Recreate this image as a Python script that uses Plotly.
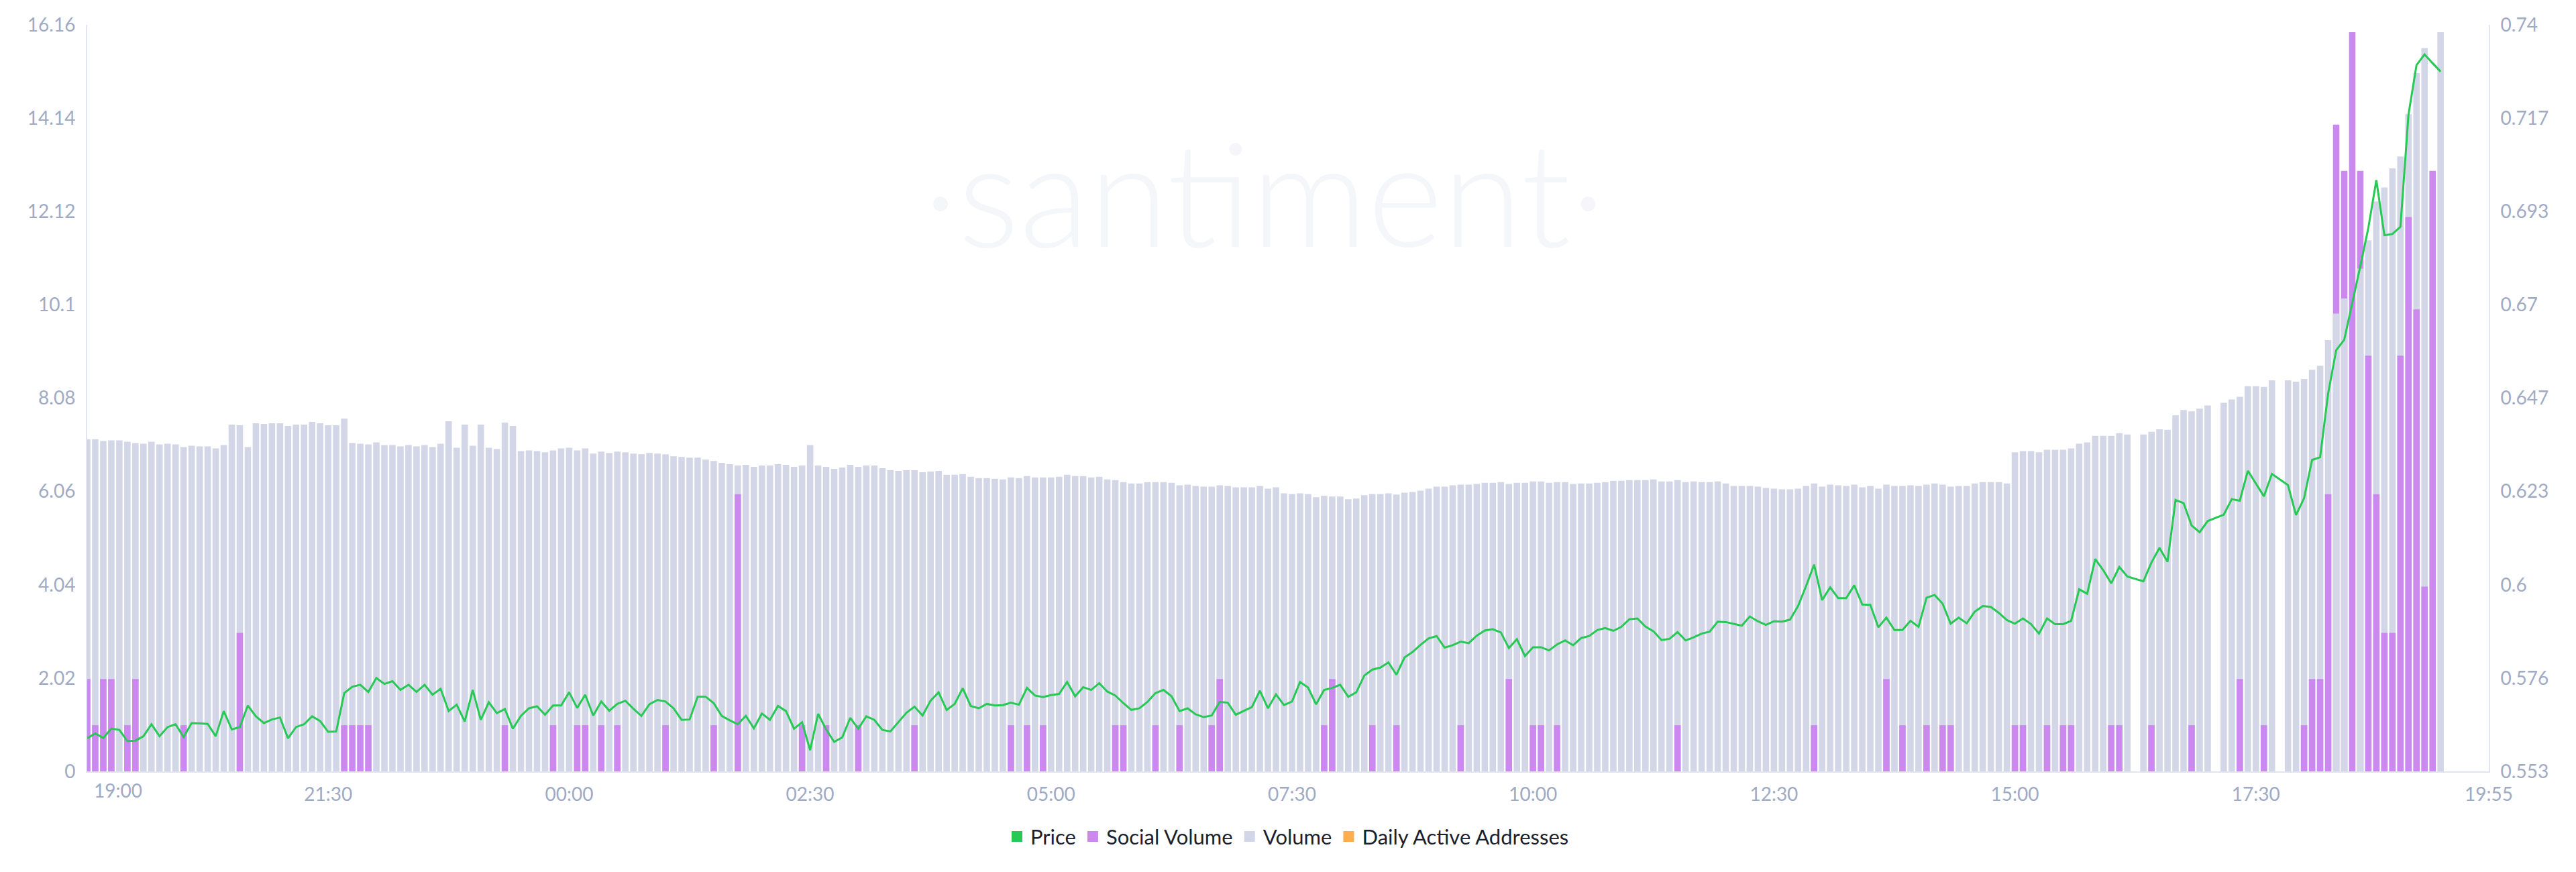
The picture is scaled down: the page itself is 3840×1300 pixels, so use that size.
import pandas as pd
import plotly.graph_objects as go

# 5 minute buckets, first one at 19:00, axis runs to 19:55 next day
start_time = "2020-02-20 19:00"
end_time = "2020-02-21 19:55"

volume = [
    5.03, 5.03, 5.00, 5.01, 5.01, 4.99, 4.97, 4.96, 4.99, 4.95,
    4.96, 4.95, 4.91, 4.93, 4.92, 4.92, 4.89, 4.94, 5.25, 5.24,
    4.91, 5.27, 5.26, 5.27, 5.27, 5.23, 5.25, 5.25, 5.29, 5.27,
    5.24, 5.24, 5.34, 4.97, 4.96, 4.95, 4.98, 4.94, 4.94, 4.92,
    4.94, 4.92, 4.94, 4.91, 4.96, 5.30, 4.90, 5.25, 4.93, 5.25,
    4.90, 4.88, 5.28, 5.23, 4.85, 4.86, 4.85, 4.83, 4.86, 4.89,
    4.90, 4.86, 4.89, 4.81, 4.84, 4.82, 4.84, 4.83, 4.81, 4.80,
    4.82, 4.81, 4.80, 4.77, 4.76, 4.75, 4.75, 4.72, 4.70, 4.67,
    4.65, 4.63, 4.64, 4.61, 4.63, 4.63, 4.65, 4.64, 4.61, 4.63,
    4.94, 4.63, 4.61, 4.58, 4.60, 4.64, 4.61, 4.63, 4.63, 4.59,
    4.56, 4.55, 4.56, 4.56, 4.53, 4.54, 4.55, 4.49, 4.49, 4.50,
    4.46, 4.44, 4.44, 4.43, 4.42, 4.45, 4.44, 4.47, 4.45, 4.45,
    4.45, 4.46, 4.49, 4.47, 4.47, 4.45, 4.46, 4.42, 4.41, 4.38,
    4.36, 4.36, 4.38, 4.38, 4.38, 4.37, 4.33, 4.34, 4.32, 4.31,
    4.31, 4.33, 4.32, 4.30, 4.30, 4.30, 4.32, 4.28, 4.30, 4.21,
    4.20, 4.21, 4.20, 4.15, 4.17, 4.16, 4.16, 4.12, 4.13, 4.18,
    4.20, 4.20, 4.21, 4.19, 4.22, 4.23, 4.25, 4.28, 4.31, 4.31,
    4.33, 4.34, 4.34, 4.35, 4.37, 4.37, 4.38, 4.35, 4.37, 4.37,
    4.39, 4.39, 4.37, 4.38, 4.38, 4.35, 4.36, 4.36, 4.37, 4.38,
    4.40, 4.40, 4.41, 4.41, 4.41, 4.42, 4.39, 4.39, 4.41, 4.38,
    4.39, 4.38, 4.38, 4.39, 4.36, 4.32, 4.32, 4.32, 4.31, 4.29,
    4.28, 4.27, 4.27, 4.28, 4.32, 4.36, 4.31, 4.34, 4.33, 4.32,
    4.34, 4.30, 4.32, 4.28, 4.34, 4.32, 4.32, 4.33, 4.32, 4.34,
    4.36, 4.34, 4.31, 4.32, 4.32, 4.36, 4.38, 4.38, 4.38, 4.36,
    4.83, 4.85, 4.85, 4.83, 4.87, 4.87, 4.87, 4.89, 4.96, 4.98,
    5.08, 5.08, 5.08, 5.12, 5.10, None, 5.10, 5.14, 5.18, 5.17,
    5.39, 5.47, 5.45, 5.49, 5.54, None, 5.58, 5.63, 5.67, 5.83,
    5.83, 5.82, 5.92, None, 5.92, 5.90, 5.94, 6.08, 6.14, 6.53,
    6.93, 7.16, None, 7.61, 8.04, 8.63, 8.84, 9.13, 9.31, 9.95,
    10.57, 10.95, None, 11.19,
]

social_volume = [
    2, 1, 2, 2, 0, 1, 2, 0, 0, 0,
    0, 0, 1, 0, 0, 0, 0, 0, 0, 3,
    0, 0, 0, 0, 0, 0, 0, 0, 0, 0,
    0, 0, 1, 1, 1, 1, 0, 0, 0, 0,
    0, 0, 0, 0, 0, 0, 0, 0, 0, 0,
    0, 0, 1, 0, 0, 0, 0, 0, 1, 0,
    0, 1, 1, 0, 1, 0, 1, 0, 0, 0,
    0, 0, 1, 0, 0, 0, 0, 0, 1, 0,
    0, 6, 0, 0, 0, 0, 0, 0, 0, 1,
    0, 0, 1, 0, 0, 0, 1, 0, 0, 0,
    0, 0, 0, 1, 0, 0, 0, 0, 0, 0,
    0, 0, 0, 0, 0, 1, 0, 1, 0, 1,
    0, 0, 0, 0, 0, 0, 0, 0, 1, 1,
    0, 0, 0, 1, 0, 0, 1, 0, 0, 0,
    1, 2, 0, 0, 0, 0, 0, 0, 0, 0,
    0, 0, 0, 0, 1, 2, 0, 0, 0, 0,
    1, 0, 0, 1, 0, 0, 0, 0, 0, 0,
    0, 1, 0, 0, 0, 0, 0, 2, 0, 0,
    1, 1, 0, 1, 0, 0, 0, 0, 0, 0,
    0, 0, 0, 0, 0, 0, 0, 0, 1, 0,
    0, 0, 0, 0, 0, 0, 0, 0, 0, 0,
    0, 0, 0, 0, 0, 1, 0, 0, 0, 0,
    0, 0, 0, 0, 2, 0, 1, 0, 0, 1,
    0, 1, 1, 0, 0, 0, 0, 0, 0, 0,
    1, 1, 0, 0, 1, 0, 1, 1, 0, 0,
    0, 0, 1, 1, 0, 0, 0, 1, 0, 0,
    0, 0, 1, 0, 0, 0, 0, 0, 2, 0,
    0, 1, 0, 0, 0, 0, 1, 2, 2, 6,
    14, 13, 16, 13, 9, 6, 3, 3, 9, 12,
    10, 4, 13, 0,
]

price = [
    0.5613, 0.5625, 0.5614, 0.5637, 0.5634, 0.5606, 0.5607, 0.5618, 0.5648, 0.5618,
    0.5641, 0.5648, 0.5616, 0.5651, 0.5650, 0.5649, 0.5618, 0.5681, 0.5635, 0.5641,
    0.5695, 0.5668, 0.5651, 0.5660, 0.5665, 0.5613, 0.5641, 0.5648, 0.5668, 0.5656,
    0.5629, 0.5630, 0.5726, 0.5742, 0.5747, 0.5729, 0.5764, 0.5749, 0.5756, 0.5734,
    0.5747, 0.5729, 0.5747, 0.5722, 0.5737, 0.5681, 0.5697, 0.5655, 0.5734, 0.5659,
    0.5703, 0.5676, 0.5686, 0.5637, 0.5669, 0.5688, 0.5693, 0.5672, 0.5695, 0.5695,
    0.5728, 0.5689, 0.5722, 0.5670, 0.5705, 0.5682, 0.5699, 0.5707, 0.5687, 0.5669,
    0.5698, 0.5709, 0.5705, 0.5688, 0.5659, 0.5660, 0.5717, 0.5717, 0.5701, 0.5669,
    0.5658, 0.5648, 0.5669, 0.5638, 0.5675, 0.5659, 0.5694, 0.5681, 0.5637, 0.5653,
    0.5583, 0.5674, 0.5635, 0.5604, 0.5615, 0.5664, 0.5637, 0.5668, 0.5659, 0.5634,
    0.5630, 0.5653, 0.5677, 0.5692, 0.5670, 0.5707, 0.5728, 0.5684, 0.5699, 0.5738,
    0.5694, 0.5688, 0.5699, 0.5695, 0.5696, 0.5702, 0.5697, 0.5739, 0.5720, 0.5716,
    0.5721, 0.5724, 0.5754, 0.5718, 0.5741, 0.5734, 0.5751, 0.5730, 0.5720, 0.5701,
    0.5684, 0.5688, 0.5704, 0.5726, 0.5734, 0.5718, 0.5681, 0.5688, 0.5673, 0.5666,
    0.5670, 0.5704, 0.5702, 0.5672, 0.5681, 0.5691, 0.5732, 0.5688, 0.5723, 0.5696,
    0.5705, 0.5754, 0.5740, 0.5698, 0.5734, 0.5739, 0.5747, 0.5717, 0.5728, 0.5770,
    0.5785, 0.5790, 0.5803, 0.5772, 0.5815, 0.5829, 0.5847, 0.5863, 0.5869, 0.5840,
    0.5846, 0.5855, 0.5851, 0.5870, 0.5883, 0.5886, 0.5878, 0.5839, 0.5861, 0.5819,
    0.5841, 0.5841, 0.5833, 0.5848, 0.5858, 0.5846, 0.5864, 0.5869, 0.5884, 0.5889,
    0.5882, 0.5892, 0.5911, 0.5913, 0.5893, 0.5881, 0.5859, 0.5862, 0.5879, 0.5858,
    0.5866, 0.5875, 0.5880, 0.5905, 0.5904, 0.5899, 0.5895, 0.5918, 0.5906, 0.5897,
    0.5906, 0.5905, 0.5910, 0.5944, 0.5994, 0.6048, 0.5959, 0.5991, 0.5964, 0.5964,
    0.5996, 0.5948, 0.5947, 0.5891, 0.5915, 0.5884, 0.5884, 0.5907, 0.5892, 0.5965,
    0.5972, 0.5950, 0.5900, 0.5915, 0.5901, 0.5930, 0.5944, 0.5942, 0.5927, 0.5909,
    0.5900, 0.5913, 0.5899, 0.5875, 0.5913, 0.5899, 0.5899, 0.5907, 0.5986, 0.5975,
    0.6062, 0.6034, 0.6001, 0.6042, 0.6018, None, 0.6006, 0.6053, 0.6090, 0.6055,
    0.6210, 0.6202, 0.6146, 0.6129, 0.6157, None, 0.6173, 0.6212, 0.6208, 0.6283,
    0.6251, 0.6219, 0.6275, None, 0.6247, 0.6172, 0.6214, 0.6310, 0.6317, 0.6477,
    0.6585, 0.6611, 0.6701, 0.6795, 0.6891, 0.7011, 0.6873, 0.6876, 0.6894, 0.7175,
    0.7299, 0.7326, 0.7304, 0.7283,
]

x_tick_times = ["2020-02-20 21:30", "2020-02-21 00:00", "2020-02-21 02:30", "2020-02-21 05:00",
                "2020-02-21 07:30", "2020-02-21 10:00", "2020-02-21 12:30", "2020-02-21 15:00",
                "2020-02-21 17:30", "2020-02-21 19:55"]
x_tick_text = ["21:30", "00:00", "02:30", "05:00", "07:30", "10:00", "12:30", "15:00", "17:30", "19:55"]
first_tick_text = "19:00"

social_tick_text = ["0", "2.02", "4.04", "6.06", "8.08", "10.1", "12.12", "14.14", "16.16"]
price_tick_text = ["0.553", "0.576", "0.6", "0.623", "0.647", "0.67", "0.693", "0.717", "0.74"]
price_min, price_max = 0.553, 0.74

GREEN = "#26c953"
PURPLE = "#cb89ef"
GREY = "#d2d6e7"
ORANGE = "#ffad4d"
TICK = "#9faac4"
AXIS = "#e2e5f0"
FONT = "Lato, 'Open Sans', sans-serif"
TICK_SIZE = 28

times = pd.date_range(start_time, periods=len(volume), freq="5min")
bar_w = 5 * 60 * 1000 * 0.8

soc_top = max(social_volume) * 1.01
vol_top = max(v for v in volume if v is not None) * 1.01

# the shorter bar of each bucket is the one drawn in front
soc_back, soc_front = [], []
for s, v in zip(social_volume, volume):
    if not s:
        soc_back.append(None)
        soc_front.append(None)
    elif v is None or s / soc_top > v / vol_top:
        soc_back.append(s)
        soc_front.append(None)
    else:
        soc_back.append(None)
        soc_front.append(s)

soc_ticks = [soc_top * i / 8 for i in range(8)] + [soc_top]
price_ticks = [price_min + (price_max - price_min) * i / 8 for i in range(8)] + [price_max]

fig = go.Figure()
fig.add_trace(go.Bar(x=times, y=soc_back, width=bar_w, marker=dict(color=PURPLE, line_width=0),
                     yaxis="y", showlegend=False, name="Social Volume"))
fig.add_trace(go.Bar(x=times, y=volume, width=bar_w, marker=dict(color=GREY, line_width=0),
                     yaxis="y2", showlegend=False, name="Volume"))
fig.add_trace(go.Bar(x=times, y=soc_front, width=bar_w, marker=dict(color=PURPLE, line_width=0),
                     yaxis="y3", showlegend=False, name="Social Volume"))
fig.add_trace(go.Scatter(x=times, y=price, mode="lines", connectgaps=True,
                         line=dict(color=GREEN, width=3), yaxis="y4", showlegend=False, name="Price"))

# legend entries (square swatches)
for name, col in [("Price", GREEN), ("Social Volume", PURPLE), ("Volume", GREY),
                  ("Daily Active Addresses", ORANGE)]:
    fig.add_trace(go.Scatter(x=[None], y=[None], mode="markers", name=name,
                             marker=dict(symbol="square", size=16, color=col)))

fig.add_annotation(text=first_tick_text, x=times[0], xref="x", y=0, yref="paper",
                   xanchor="left", yanchor="top", xshift=8, yshift=-9, showarrow=False,
                   font=dict(family=FONT, size=TICK_SIZE, color=TICK))
fig.add_annotation(text="·santiment·", x=0.49, xref="paper", y=0.895, yref="paper",
                   showarrow=False, font=dict(family=FONT, size=215, color="#f5f6fa", weight=300))

fig.update_layout(
    width=3832, height=1292,
    margin=dict(l=122, r=130, t=11, b=150),
    paper_bgcolor="white", plot_bgcolor="white",
    barmode="overlay",
    font=dict(family=FONT, size=TICK_SIZE, color=TICK),
    legend=dict(orientation="h", x=0.5, xanchor="center", y=-0.0875, yanchor="middle",
                font=dict(family=FONT, size=31, color="#1b1f2e"), itemsizing="trace"),
    xaxis=dict(type="date", range=[times[0], end_time], tickvals=x_tick_times, ticktext=x_tick_text,
               showgrid=False, zeroline=False, showline=True, linecolor=AXIS, linewidth=2,
               ticks="", ticklabelstandoff=8, ticklabeloverflow="allow",
               tickfont=dict(size=TICK_SIZE, color=TICK)),
    yaxis=dict(range=[0, soc_top], tickvals=soc_ticks, ticktext=social_tick_text,
               showgrid=False, zeroline=False, showline=True, linecolor=AXIS, linewidth=2,
               ticks="", ticklabelstandoff=10, ticklabeloverflow="allow",
               tickfont=dict(size=TICK_SIZE, color=TICK)),
    yaxis2=dict(overlaying="y", range=[0, vol_top], visible=False),
    yaxis3=dict(overlaying="y", range=[0, soc_top], visible=False),
    yaxis4=dict(overlaying="y", side="right", range=[price_min, price_max],
                tickvals=price_ticks, ticktext=price_tick_text,
                showgrid=False, zeroline=False, showline=True, linecolor=AXIS, linewidth=2,
                ticks="", ticklabelstandoff=10, ticklabeloverflow="allow",
                tickfont=dict(size=TICK_SIZE, color=TICK)),
)

fig.write_html("out.html")
